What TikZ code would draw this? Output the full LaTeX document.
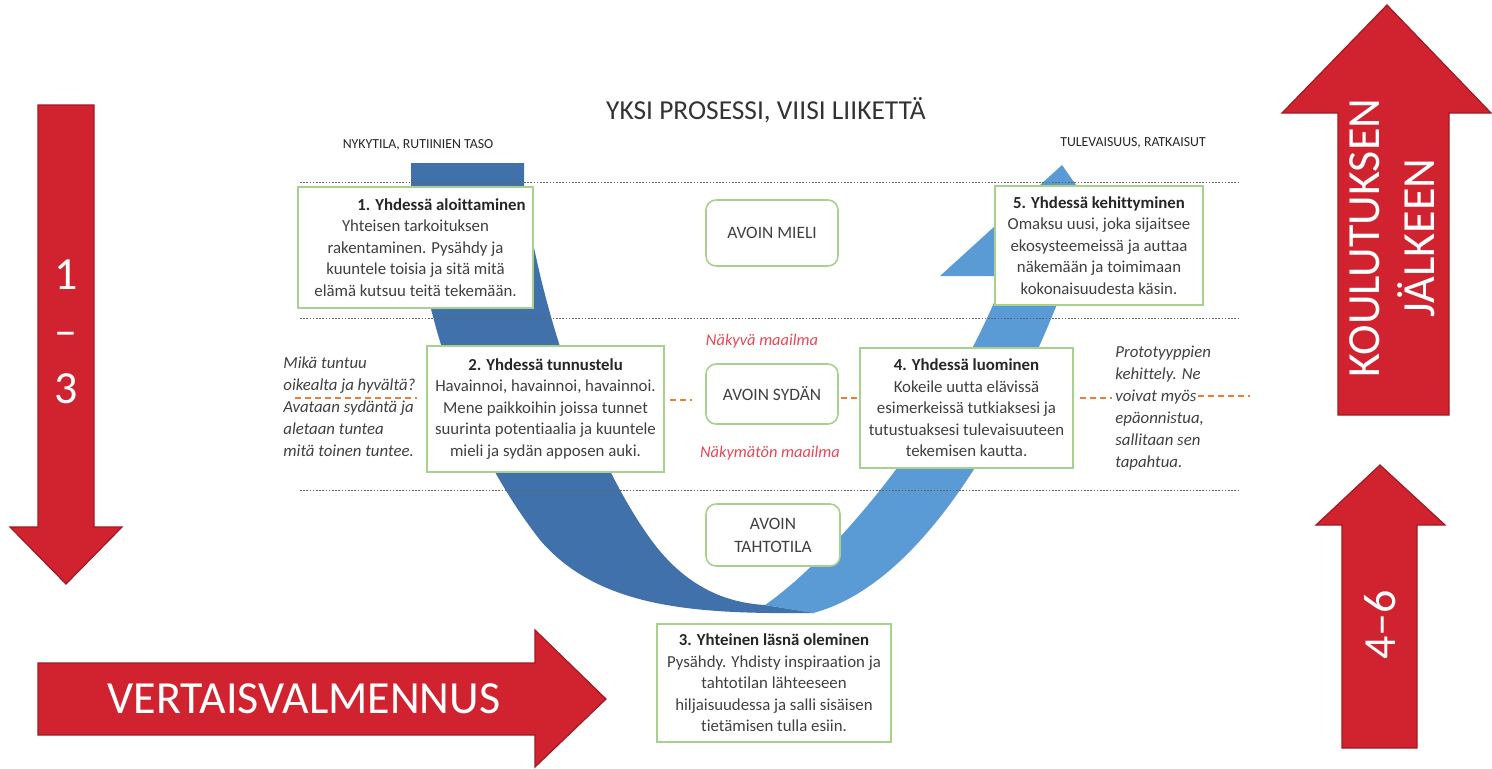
\documentclass[tikz,border=0pt]{standalone}
\usepackage{fontspec}
\setmainfont{Carlito}[Ligatures=NoCommon]
\definecolor{bandDark}{RGB}{65,113,170}
\definecolor{bandLight}{RGB}{91,155,213}
\definecolor{boxGreen}{RGB}{169,208,142}
\definecolor{arrowRed}{RGB}{209,35,47}
\definecolor{arrowEdge}{RGB}{160,25,35}
\definecolor{dashOrange}{RGB}{237,125,49}
\definecolor{labelRed}{RGB}{232,70,85}
\definecolor{txtGrey}{RGB}{64,64,64}
\definecolor{dotGrey}{RGB}{100,100,100}
\begin{document}
\begin{tikzpicture}[x=0.5pt,y=-0.5pt,
  stepbox/.style={draw=boxGreen, line width=0.8pt, fill=white, inner sep=0pt, align=center,
    text=txtGrey, font=\fontsize{8.4}{10.75}\selectfont},
  statebox/.style={stepbox, rounded corners=5pt, font=\fontsize{8.7}{11.5}\selectfont},
  sidetext/.style={align=left, inner sep=0pt, text=txtGrey, font=\fontsize{8.4}{11}\selectfont\itshape},
  worldlabel/.style={inner sep=0pt, text=labelRed, font=\fontsize{8.2}{10}\selectfont\itshape},
  levellabel/.style={inner sep=0pt, text=black!85, font=\fontsize{6.9}{8}\selectfont},
  levelline/.style={dotGrey, line width=0.5pt, dash pattern=on 0.8pt off 0.8pt},
  orangedash/.style={dashOrange, line width=0.9pt, dash pattern=on 3pt off 2pt},
  redarrow/.style={fill=arrowRed, draw=arrowEdge, line width=0.6pt, line join=miter},
  arrowtext/.style={inner sep=0pt, text=white, align=center, font=\fontsize{23}{28}\selectfont}
]
\useasboundingbox (0,0) rectangle (1492,768);

% ---- U-shaped process band ----
\fill[bandDark] (411,163) -- (411,195) .. controls (425,330) and (470,450) .. (540,540)
  .. controls (600,610) and (700,614) .. (815,613) -- (765,605)
  .. controls (730,603) and (690,590) .. (655,545)
  .. controls (605,480) and (545,340) .. (524,190) -- (524,163) -- cycle;
\fill[bandLight] (765,605) .. controls (830,560) and (945,430) .. (1005,276)
  -- (940,276) -- (1062,165) -- (1140,276) -- (1068,276)
  .. controls (1010,430) and (920,585) .. (813,613) -- cycle;

% ---- level lines ----
\coordinate (l1a) at (300,182); \coordinate (l1b) at (1240,182);
\coordinate (l2a) at (300,318); \coordinate (l2b) at (1240,318);
\coordinate (l3a) at (300,490); \coordinate (l3b) at (1240,490);
\draw[levelline] (l1a) -- (l1b);
\draw[levelline] (l2a) -- (l2b);
\draw[levelline] (l3a) -- (l3b);

% ---- title and level labels ----
\node[inner sep=0pt, text=black!80, font=\fontsize{13.7}{16}\selectfont] (title) at (766,110) {YKSI PROSESSI, VIISI LIIKETTÄ};
\node[levellabel] (nyky) at (418,145) {NYKYTILA, RUTIINIEN TASO};
\node[levellabel] (tulev) at (1133,143) {TULEVAISUUS, RATKAISUT};

% ---- step boxes ----
\node[stepbox, minimum width=117.5pt, minimum height=60.5pt] (s1) at (415.5,247.5)
 {\hspace*{26pt}\textbf{\color{black!85}1. Yhdessä aloittaminen}\\Yhteisen tarkoituksen\\rakentaminen. Pysähdy ja\\kuuntele toisia ja sitä mitä\\elämä kutsuu teitä tekemään.};
\node[stepbox, minimum width=118.5pt, minimum height=63pt] (s2) at (545.5,409)
 {\textbf{\color{black!85}2. Yhdessä tunnustelu}\\Havainnoi, havainnoi, havainnoi.\\Mene paikkoihin joissa tunnet\\suurinta potentiaalia ja kuuntele\\mieli ja sydän apposen auki.};
\node[stepbox, minimum width=117pt, minimum height=59pt] (s3) at (774,683)
 {\textbf{\color{black!85}3. Yhteinen läsnä oleminen}\\Pysähdy. Yhdisty inspiraation ja\\tahtotilan lähteeseen\\hiljaisuudessa ja salli sisäisen\\tietämisen tulla esiin.};
\node[stepbox, minimum width=106.5pt, minimum height=60pt] (s4) at (966.5,408)
 {\textbf{\color{black!85}4. Yhdessä luominen}\\Kokeile uutta elävissä\\esimerkeissä tutkiaksesi ja\\tutustuaksesi tulevaisuuteen\\tekemisen kautta.};
\node[stepbox, minimum width=104pt, minimum height=59.5pt] (s5) at (1099,245.5)
 {\textbf{\color{black!85}5. Yhdessä kehittyminen}\\Omaksu uusi, joka sijaitsee\\ekosysteemeissä ja auttaa\\näkemään ja toimimaan\\kokonaisuudesta käsin.};

% ---- state boxes ----
\node[statebox, minimum width=66pt, minimum height=33pt] (mieli) at (772,233) {AVOIN MIELI};
\node[statebox, minimum width=66pt, minimum height=30pt] (sydan) at (772,394) {AVOIN SYDÄN};
\node[statebox, minimum width=67pt, minimum height=31pt] (tahto) at (773,535) {AVOIN\\TAHTOTILA};

% ---- world labels ----
\node[worldlabel] (nakyva) at (762,341) {Näkyvä maailma};
\node[worldlabel] (nakymaton) at (770,453) {Näkymätön maailma};

% ---- side texts ----
\node[sidetext, anchor=west] (left) at (283,407)
 {Mikä tuntuu\\oikealta ja hyvältä?\\Avataan sydäntä ja\\aletaan tuntea\\mitä toinen tuntee.};
\node[sidetext, anchor=west] (right) at (1115,408)
 {Prototyyppien\\kehittely. Ne\\voivat myös\\epäonnistua,\\sallitaan sen\\tapahtua.};

% ---- orange dashed line pieces ----
\coordinate (o1a) at (295,398); \coordinate (o1b) at (417,398);
\coordinate (o2a) at (670,400); \coordinate (o2b) at (692,400);
\coordinate (o3a) at (841,398); \coordinate (o3b) at (859,398);
\coordinate (o4a) at (1080,398); \coordinate (o4b) at (1112,398);
\coordinate (o5a) at (1198,396); \coordinate (o5b) at (1250,396);
\draw[orangedash] (o1a) -- (o1b);
\draw[orangedash] (o2a) -- (o2b);
\draw[orangedash] (o3a) -- (o3b);
\draw[orangedash] (o4a) -- (o4b);
\draw[orangedash] (o5a) -- (o5b);

% ---- red arrows ----
\draw[redarrow] (38,105) -- (94,105) -- (94,527) -- (122,527) -- (66,584) -- (10,527) -- (38,527) -- cycle;
\node[arrowtext, font=\fontsize{23}{28.5}\selectfont] (a13) at (66,332) {1\\–\\3};

\draw[redarrow] (38,663) -- (535,663) -- (535,630) -- (606,699) -- (535,767) -- (535,735) -- (38,735) -- cycle;
\node[arrowtext] (avert) at (304,699) {VERTAISVALMENNUS};

\draw[redarrow] (1387,5) -- (1491,113) -- (1449,113) -- (1449,415) -- (1338,415) -- (1338,113) -- (1282,113) -- cycle;
\node[arrowtext, rotate=90, font=\fontsize{23}{27.5}\selectfont] (akoul) at (1392,238) {KOULUTUKSEN\\JÄLKEEN};

\draw[redarrow] (1380,465) -- (1445,525) -- (1417,525) -- (1417,748) -- (1342,748) -- (1342,525) -- (1316,525) -- cycle;
\node[arrowtext, rotate=90] (a46) at (1380,625) {4–6};
\end{tikzpicture}
\end{document}
